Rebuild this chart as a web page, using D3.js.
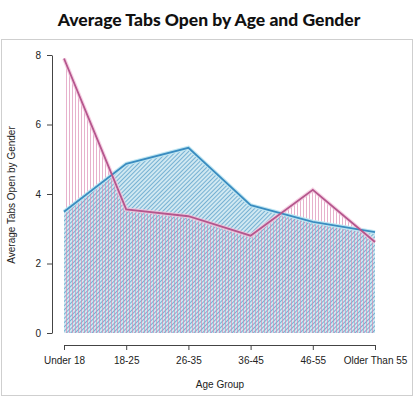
<!DOCTYPE html>
<html>
<head>
<meta charset="utf-8">
<script src="https://cdn.jsdelivr.net/npm/d3@7"></script>
<style>
  body { margin: 0; background: #fff; }
  svg { display: block; }
</style>
</head>
<body>
<div id="wrapper"></div>
<script>
const ageGroups = ["Under 18", "18-25", "26-35", "36-45", "46-55", "Older Than 55"];
const femaleTabs = [7.9, 3.56, 3.36, 2.8, 4.12, 2.62];
const maleTabs = [3.49, 4.87, 5.33, 3.68, 3.2, 2.9];
const yTicks = [0, 2, 4, 6, 8];

const width = 416, height = 398;
const svg = d3.select("#wrapper").append("svg")
  .attr("width", width)
  .attr("height", height);

// patterns for the hatched areas
const defs = svg.append("defs");
const bluePat = defs.append("pattern")
  .attr("id", "blueHatch")
  .attr("patternUnits", "userSpaceOnUse")
  .attr("width", 3).attr("height", 3)
  .attr("patternTransform", "rotate(-45)");
bluePat.append("rect").attr("width", 3).attr("height", 3).attr("fill", "#d0e8f1");
bluePat.append("line")
  .attr("x1", 0).attr("y1", 0).attr("x2", 3).attr("y2", 0)
  .attr("stroke", "#5fa3cc").attr("stroke-width", 1.6);

const pinkPat = defs.append("pattern")
  .attr("id", "pinkHatch")
  .attr("patternUnits", "userSpaceOnUse")
  .attr("width", 3).attr("height", 3);
pinkPat.append("line")
  .attr("x1", 0.5).attr("y1", 0).attr("x2", 0.5).attr("y2", 3)
  .attr("stroke", "#d982ad").attr("stroke-width", 0.9).attr("stroke-opacity", 0.7);

// frame
svg.append("rect")
  .attr("x", 1.5).attr("y", 39.5)
  .attr("width", 411).attr("height", 356)
  .attr("fill", "none")
  .attr("stroke", "#cfcfcf");

svg.append("text")
  .attr("x", 209).attr("y", 26)
  .attr("text-anchor", "middle")
  .attr("font-family", "Lato")
  .attr("font-weight", 900)
  .attr("font-size", 17.5)
  .attr("fill", "#111")
  .text("Average Tabs Open by Age and Gender");

const xScale = d3.scalePoint()
  .domain(ageGroups)
  .range([64, 375]);

const yScale = d3.scaleLinear()
  .domain([0, 8])
  .range([333, 55]);

const areaGen = d3.area()
  .x((d, i) => xScale(ageGroups[i]))
  .y0(yScale(0))
  .y1(d => yScale(d));

const lineGen = d3.line()
  .x((d, i) => xScale(ageGroups[i]))
  .y(d => yScale(d));

svg.append("path")
  .attr("d", areaGen(maleTabs))
  .attr("fill", "url(#blueHatch)");

svg.append("path")
  .attr("d", areaGen(femaleTabs))
  .attr("fill", "url(#pinkHatch)");

// soft halos under the lines
svg.append("path")
  .attr("d", lineGen(maleTabs))
  .attr("fill", "none")
  .attr("stroke", "#bfe6f2")
  .attr("stroke-width", 4);
svg.append("path")
  .attr("d", lineGen(femaleTabs))
  .attr("fill", "none")
  .attr("stroke", "#f3c6dc")
  .attr("stroke-width", 4)
  .attr("stroke-opacity", 0.8);

svg.append("path")
  .attr("d", lineGen(maleTabs))
  .attr("fill", "none")
  .attr("stroke", "#3a8cc0")
  .attr("stroke-width", 1.8);

svg.append("path")
  .attr("d", lineGen(femaleTabs))
  .attr("fill", "none")
  .attr("stroke", "#b5568d")
  .attr("stroke-width", 1.8);

// axes
const yAxis = svg.append("g")
  .attr("transform", "translate(52,0)")
  .call(d3.axisLeft(yScale).tickValues(yTicks).tickSize(5).tickPadding(6).tickSizeOuter(0));
const xAxis = svg.append("g")
  .attr("transform", "translate(0,345)")
  .call(d3.axisBottom(xScale).tickSize(5).tickPadding(7).tickSizeOuter(0));

[yAxis, xAxis].forEach(ax => {
  ax.select(".domain").attr("stroke", "#444");
  ax.selectAll(".tick line").attr("stroke", "#444");
  ax.selectAll("text")
    .attr("font-family", "Liberation Sans, Arial")
    .attr("font-size", 10)
    .attr("fill", "#222");
});

svg.append("text")
  .attr("x", 220).attr("y", 388)
  .attr("text-anchor", "middle")
  .attr("font-family", "Liberation Sans, Arial")
  .attr("font-size", 10)
  .attr("fill", "#222")
  .text("Age Group");

svg.append("text")
  .attr("transform", "translate(15,195) rotate(-90)")
  .attr("text-anchor", "middle")
  .attr("font-family", "Liberation Sans, Arial")
  .attr("font-size", 10)
  .attr("fill", "#222")
  .text("Average Tabs Open by Gender");
</script>
</body>
</html>
